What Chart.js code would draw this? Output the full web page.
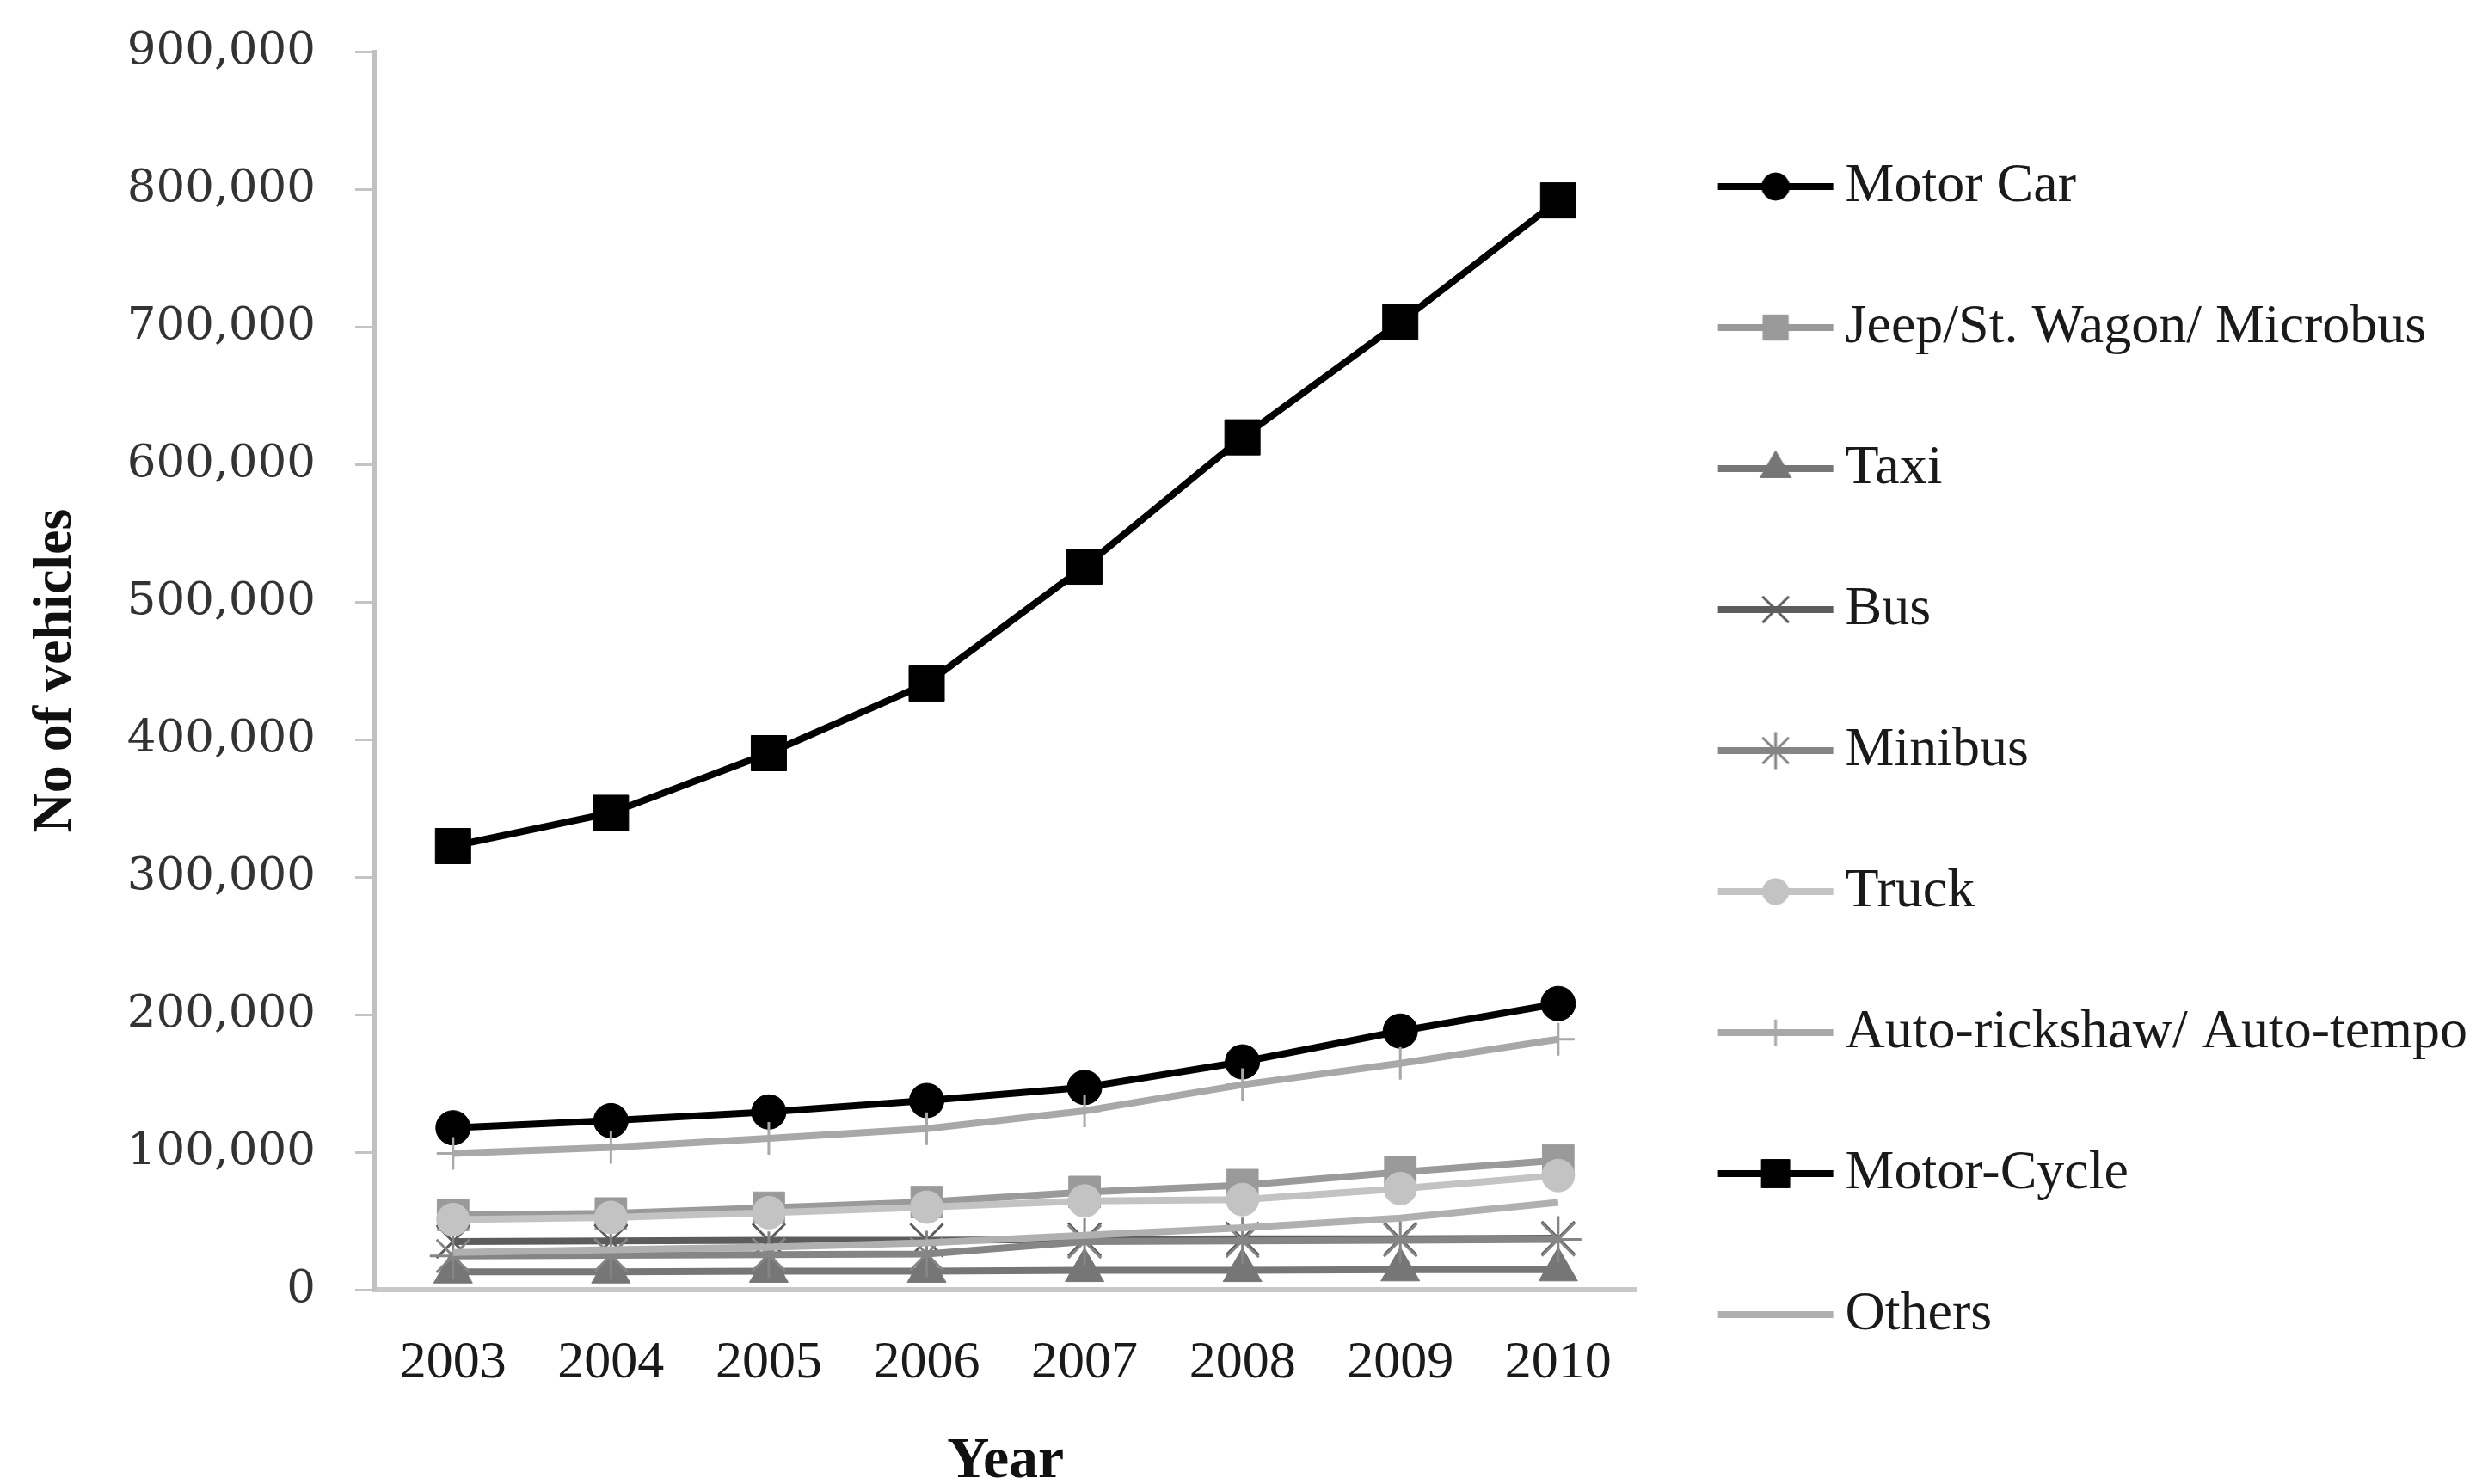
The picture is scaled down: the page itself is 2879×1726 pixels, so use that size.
<!DOCTYPE html>
<html>
<head>
<meta charset="utf-8">
<title>Registered vehicles 2003-2010</title>
<script src="https://cdn.jsdelivr.net/npm/chart.js@4/dist/chart.umd.min.js"></script>
<style>
  html, body { margin: 0; padding: 0; background: #ffffff; }
  #wrap { width: 2879px; height: 1726px; }
</style>
</head>
<body>
<div id="wrap"><canvas id="vehicles" width="2879" height="1726"></canvas></div>
<script>
// Year categories
const years = ['2003', '2004', '2005', '2006', '2007', '2008', '2009', '2010'];

// Number of vehicles per category and year
const motorCar     = [117700, 122900, 129200, 137500, 147000, 165600, 188000, 208000];
const jeepWagon    = [54400, 55400, 59600, 63700, 71000, 76000, 85500, 94000];
const taxi         = [13000, 13000, 13500, 13500, 14000, 14000, 14500, 14500];
const bus          = [35000, 35500, 36000, 36000, 36500, 37000, 37000, 37500];
const minibus      = [24500, 25000, 25500, 26000, 35000, 35500, 36000, 36500];
const truck        = [51000, 52500, 56000, 60000, 64500, 65500, 73500, 83000];
const autoRickshaw = [99000, 103500, 110000, 117000, 130000, 149000, 164500, 182000];
const motorCycle   = [322500, 346600, 390000, 440600, 525600, 619600, 703400, 791800];
const others       = [27000, 29000, 31000, 34000, 39500, 45000, 52000, 63500];

// Value axis tick positions
const yTicks = [0, 100000, 200000, 300000, 400000, 500000, 600000, 700000, 800000, 900000];

// Series names with their data
const seriesLabels = ['Motor Car', 'Jeep/St. Wagon/ Microbus', 'Taxi', 'Bus', 'Minibus',
                      'Truck', 'Auto-rickshaw/ Auto-tempo', 'Motor-Cycle', 'Others'];
const seriesData = [motorCar, jeepWagon, taxi, bus, minibus, truck, autoRickshaw, motorCycle, others];

// Look of each series: colour, marker shape, marker radius, marker stroke
const seriesStyles = [
  { color: '#000000', marker: 'circle',   radius: 20, stroke: 1 },
  { color: '#9a9a9a', marker: 'rect',     radius: 26, stroke: 1 },
  { color: '#767676', marker: 'triangle', radius: 26, stroke: 1 },
  { color: '#5c5c5c', marker: 'crossRot', radius: 27, stroke: 3 },
  { color: '#858585', marker: 'star',     radius: 27, stroke: 3 },
  { color: '#c3c3c3', marker: 'circle',   radius: 19, stroke: 1 },
  { color: '#a8a8a8', marker: 'cross',    radius: 19, stroke: 3 },
  { color: '#000000', marker: 'rect',     radius: 29, stroke: 1 },
  { color: '#b0b0b0', marker: false,      radius: 0,  stroke: 0 }
];

const SERIF = "'Liberation Serif', 'Times New Roman', serif";
Chart.defaults.font.family = SERIF;

// Legend swatch: a short line with the series marker in it
function makeSwatch(style) {
  const cv = document.createElement('canvas');
  cv.width = 160; cv.height = 60;
  const g = cv.getContext('2d');
  g.strokeStyle = style.color;
  g.lineWidth = 8;
  g.beginPath();
  g.moveTo(19, 30);
  g.lineTo(153, 30);
  g.stroke();
  if (style.marker) {
    g.fillStyle = style.color;
    g.strokeStyle = style.color;
    g.lineWidth = style.stroke;
    Chart.helpers.drawPoint(g, {
      pointStyle: style.marker,
      radius: style.radius * 0.8,
      rotation: 0,
      borderWidth: style.stroke
    }, 86, 30);
  }
  return cv;
}
const swatches = seriesStyles.map(makeSwatch);

const datasets = seriesLabels.map((label, i) => {
  const st = seriesStyles[i];
  return {
    label: label,
    data: seriesData[i],
    borderColor: st.color,
    backgroundColor: st.color,
    borderWidth: 8,
    tension: 0,
    fill: false,
    clip: false,
    order: seriesLabels.length - i,
    pointStyle: st.marker,
    pointRadius: st.marker ? st.radius : 0,
    pointHoverRadius: st.marker ? st.radius : 0,
    pointBorderWidth: st.stroke,
    pointBackgroundColor: st.color,
    pointBorderColor: st.color
  };
});

new Chart(document.getElementById('vehicles'), {
  type: 'line',
  data: { labels: years, datasets: datasets },
  options: {
    responsive: false,
    animation: false,
    events: [],
    layout: { padding: { top: 60, right: 0, bottom: 0, left: 0 } },
    plugins: {
      tooltip: { enabled: false },
      legend: {
        position: 'right',
        align: 'start',
        maxWidth: 979,
        title: { display: true, text: '', font: { size: 10, lineHeight: 1 }, padding: { top: 15, bottom: 0 } },
        labels: {
          usePointStyle: true,
          pointStyleWidth: 110,
          padding: 100,
          color: '#1a1a1a',
          font: { family: SERIF, size: 64 },
          generateLabels: (chart) => chart.data.datasets.map((ds, i) => ({
            text: ds.label,
            pointStyle: swatches[i],
            rotation: 0,
            fillStyle: ds.borderColor,
            strokeStyle: ds.borderColor,
            lineWidth: 0,
            hidden: false,
            datasetIndex: i,
            fontColor: '#1a1a1a'
          }))
        }
      }
    },
    scales: {
      x: {
        type: 'category',
        offset: true,
        grid: { display: false, drawTicks: false },
        border: { display: true, color: '#c8c8c8', width: 6 },
        ticks: {
          color: '#1a1a1a',
          font: { family: SERIF, size: 62 },
          padding: 49,
          maxRotation: 0,
          autoSkip: false
        },
        title: {
          display: true,
          text: 'Year',
          color: '#111111',
          font: { family: SERIF, size: 68, weight: 'bold', lineHeight: 0.75 },
          padding: { top: 0, bottom: 0 }
        },
        afterFit: (scale) => { scale.height = 226; }
      },
      y: {
        min: 0,
        max: 900000,
        afterBuildTicks: (scale) => { scale.ticks = yTicks.map(v => ({ value: v })); },
        grid: { drawOnChartArea: false, drawTicks: true, tickLength: 22, color: '#c4c4c4', lineWidth: 3 },
        border: { display: true, color: '#c0c0c0', width: 5 },
        ticks: {
          color: '#333333',
          font: { family: "'DejaVu Serif', serif", size: 53 },
          padding: 46,
          callback: (v) => Number(v).toLocaleString('en-US')
        },
        title: {
          display: true,
          text: 'No of vehicles',
          color: '#111111',
          font: { family: SERIF, size: 64, weight: 'bold' },
          padding: { top: 27, bottom: 0 }
        },
        afterFit: (scale) => {
          scale.width = 435;
          scale.paddingTop = 30;
          scale.paddingBottom = 30;
        }
      }
    }
  }
});
</script>
</body>
</html>
